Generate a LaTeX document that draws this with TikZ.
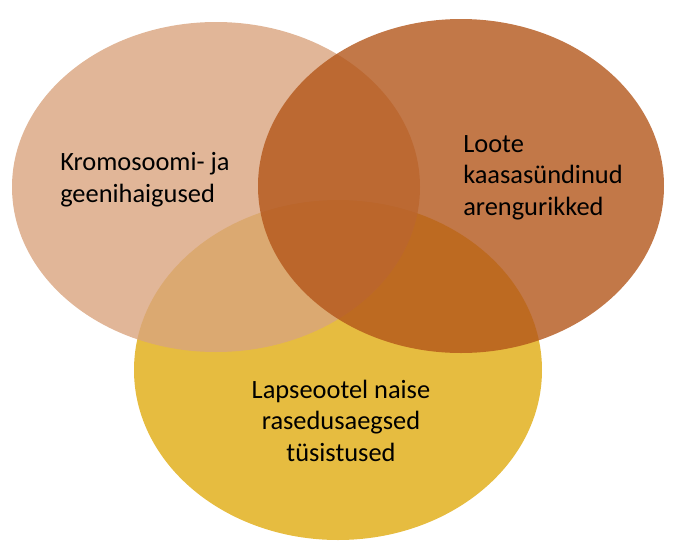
\documentclass[tikz,border=0pt]{standalone}
\usepackage{fontspec}
\setmainfont{Carlito}
\definecolor{kroom}{RGB}{217,164,126}
\definecolor{loote}{RGB}{179,86,26}
\definecolor{lapse}{RGB}{224,171,16}
\begin{document}
\begin{tikzpicture}[x=0.75pt, y=-0.75pt,
    ring/.style={fill opacity=0.8},
    tekst/.style={font=\fontsize{19.8}{23.5}\selectfont, inner sep=0pt}]
    \useasboundingbox (0,0) rectangle (676,558);
    % lapseootel naise tüsistused
    \fill[lapse, ring] (338,370) ellipse [x radius=204, y radius=170];
    % kromosoomi- ja geenihaigused
    \fill[kroom, ring] (216,187) ellipse [x radius=204, y radius=165];
    % loote arengurikked
    \fill[loote, ring] (461,186) ellipse [x radius=203, y radius=167];
    % tekstid
    \node[tekst, align=left, anchor=base west] (geen) at (60,202)
        {Kromosoomi- ja\\geenihaigused};
    \node[tekst, align=left, anchor=base west] (loote) at (463,215)
        {Loote\\kaasasündinud\\arengurikked};
    \node[tekst, align=center, anchor=base] (rasedus) at (341,461)
        {Lapseootel naise\\rasedusaegsed\\tüsistused};
\end{tikzpicture}
\end{document}
